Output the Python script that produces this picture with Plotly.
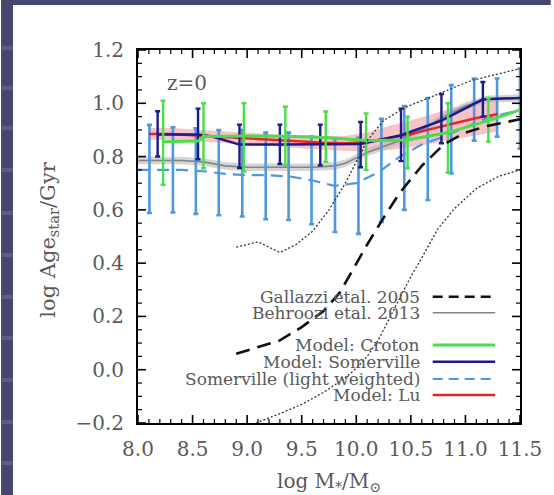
import plotly.graph_objects as go

# ---------------- data ----------------
# Gallazzi et al. 2005 (black dashed) and its 1-sigma envelope (dotted)
gal_x = [8.9, 9.1, 9.3, 9.5, 9.7, 9.85, 10.0, 10.1, 10.25, 10.4, 10.5, 10.6, 10.8, 11.0, 11.2, 11.5]
gal_y = [0.06, 0.085, 0.11, 0.16, 0.22, 0.29, 0.40, 0.47, 0.57, 0.665, 0.715, 0.765, 0.845, 0.89, 0.915, 0.94]
gal_hi_x = [8.9, 9.1, 9.3, 9.45, 9.6, 9.75, 9.9, 10.0, 10.1, 10.25, 10.45, 10.75, 11.05, 11.3, 11.5]
gal_hi_y = [0.46, 0.48, 0.44, 0.47, 0.52, 0.60, 0.70, 0.78, 0.86, 0.935, 0.985, 1.035, 1.085, 1.11, 1.13]
gal_lo_x = [9.08, 9.3, 9.5, 9.7, 9.9, 10.0, 10.1, 10.2, 10.3, 10.4, 10.5, 10.6, 10.75, 10.9, 11.1, 11.3, 11.5]
gal_lo_y = [-0.2, -0.165, -0.13, -0.085, -0.03, 0.005, 0.05, 0.11, 0.19, 0.27, 0.35, 0.42, 0.53, 0.605, 0.68, 0.725, 0.75]

# Behroozi et al. 2013 (grey line with band)
beh_x = [8.0, 8.2, 8.4, 8.6, 8.8, 9.0, 9.2, 9.4, 9.6, 9.8, 9.9, 10.0, 10.1, 10.2, 10.4, 10.6, 10.8, 11.0, 11.2, 11.5]
beh_y = [0.785, 0.785, 0.785, 0.78, 0.765, 0.76, 0.76, 0.76, 0.76, 0.765, 0.775, 0.795, 0.815, 0.83, 0.86, 0.90, 0.95, 0.99, 1.015, 1.02]
beh_err = [0.014] * 20

# Model: Lu (red line with pink band)
lu_x = [8.1, 8.3, 8.5, 8.7, 8.9, 9.1, 9.3, 9.5, 9.7, 9.9, 10.1, 10.3, 10.5, 10.7, 10.9, 11.1, 11.3]
lu_y = [0.885, 0.885, 0.88, 0.875, 0.87, 0.865, 0.86, 0.855, 0.852, 0.85, 0.855, 0.87, 0.885, 0.905, 0.925, 0.945, 0.96]
lu_err = [0.022, 0.022, 0.022, 0.022, 0.022, 0.022, 0.022, 0.025, 0.025, 0.028, 0.035, 0.045, 0.05, 0.055, 0.06, 0.065, 0.065]

# Model: Croton (green)
cro_x = [8.23, 8.55, 8.6, 8.97, 9.35, 9.72, 10.09, 10.47, 10.84, 11.21, 11.5]
cro_y = [0.856, 0.858, 0.875, 0.877, 0.876, 0.872, 0.86, 0.862, 0.89, 0.935, 0.975]
cro_bar_x = [8.23, 8.6, 8.97, 9.35, 9.72, 10.09, 10.47, 10.84, 11.21]
cro_top = [1.01, 1.0, 1.0, 0.987, 0.969, 0.962, 0.95, 1.0, 1.02]
cro_bot = [0.694, 0.756, 0.744, 0.767, 0.78, 0.75, 0.756, 0.74, 0.856]

# Model: Somerville (navy)
som_x = [8.18, 8.55, 8.68, 8.93, 9.30, 9.67, 10.04, 10.41, 10.78, 11.16, 11.5]
som_y = [0.883, 0.883, 0.875, 0.845, 0.845, 0.845, 0.847, 0.88, 0.935, 1.015, 1.02]
som_bar_x = [8.18, 8.55, 8.93, 9.30, 9.67, 10.04, 10.41, 10.78, 11.16]
som_top = [0.97, 0.98, 0.92, 0.92, 0.92, 0.93, 0.98, 1.035, 1.08]
som_bot = [0.80, 0.79, 0.757, 0.772, 0.767, 0.76, 0.783, 0.85, 0.95]

# Somerville light weighted (light blue dashed)
sl_x = [8.0, 8.2, 8.4, 8.6, 8.8, 9.0, 9.2, 9.4, 9.6, 9.8, 10.0, 10.2, 10.4, 10.6, 10.8, 11.0, 11.2, 11.5]
sl_y = [0.75, 0.75, 0.75, 0.745, 0.735, 0.73, 0.73, 0.725, 0.71, 0.69, 0.70, 0.74, 0.80, 0.845, 0.875, 0.91, 0.945, 0.975]
sl_bar_x = [8.105, 8.32, 8.53, 8.74, 8.955, 9.17, 9.38, 9.59, 9.805, 10.02, 10.23, 10.44, 10.655, 10.87, 11.08, 11.29, 11.5]
sl_top = [0.919, 0.91, 0.906, 0.90, 0.90, 0.89, 0.89, 0.875, 0.865, 0.87, 0.942, 0.99, 1.02, 1.068, 1.093, 1.093, 1.13]
sl_bot = [0.588, 0.59, 0.585, 0.58, 0.575, 0.565, 0.562, 0.546, 0.517, 0.51, 0.555, 0.60, 0.637, 0.737, 0.86, 0.875, 0.83]

x_range = [8.0, 11.5]
y_range = [-0.2, 1.2]
x_major, x_minor = 0.5, 0.1
y_major, y_minor = 0.2, 0.05

legend_labels = ["Gallazzi etal. 2005", "Behroozi etal. 2013", "Model: Croton",
                 "Model: Somerville", "Somerville (light weighted)", "Model: Lu"]

# ---------------- styles ----------------
C_GREEN = "#4cdc4c"
C_NAVY = "#1b1b8c"
C_LBLUE = "#4f98dc"
C_RED = "#e02828"
C_PINK = "rgba(240,120,135,0.45)"
C_GREY = "#858585"
C_GREYBAND = "rgba(185,185,185,0.6)"
SERIF = "DejaVu Serif"
TXT = "#5a5a5a"

W, H = 554, 495
ML, MR, MT, MB = 138, 31, 50, 72
PW, PH = W - ML - MR, H - MT - MB


def px2x(px):
    return (px - ML) / PW


def py2y(py):
    return (H - MB - py) / PH


fig = go.Figure()


def band(x, y, e, fill):
    fig.add_trace(go.Scatter(
        x=list(x) + list(x)[::-1],
        y=[a + b for a, b in zip(y, e)] + [a - b for a, b in zip(y, e)][::-1],
        fill="toself", fillcolor=fill, line=dict(width=0), mode="lines",
        hoverinfo="skip", showlegend=False))


def bars(x, top, bot, color, width):
    fig.add_trace(go.Scatter(
        x=x, y=[(t + b) / 2 for t, b in zip(top, bot)], mode="markers",
        marker=dict(size=1, color="rgba(0,0,0,0)"),
        error_y=dict(type="data", symmetric=True,
                     array=[(t - b) / 2 for t, b in zip(top, bot)],
                     color=color, thickness=width, width=2.5),
        showlegend=False, hoverinfo="skip"))


# bands
band(lu_x, lu_y, lu_err, C_PINK)
band(beh_x, beh_y, beh_err, C_GREYBAND)
fig.add_trace(go.Scatter(x=beh_x, y=beh_y, mode="lines", line=dict(color=C_GREY, width=1.6), showlegend=False))

# light weighted Somerville
bars(sl_bar_x, sl_top, sl_bot, C_LBLUE, 2.6)
fig.add_trace(go.Scatter(x=sl_x, y=sl_y, mode="lines",
                         line=dict(color=C_LBLUE, width=2.2, dash="12px,7px"), showlegend=False))

# Lu
fig.add_trace(go.Scatter(x=lu_x, y=lu_y, mode="lines", line=dict(color=C_RED, width=2.5), showlegend=False))

# Somerville
bars(som_bar_x, som_top, som_bot, C_NAVY, 2.4)
fig.add_trace(go.Scatter(x=som_x, y=som_y, mode="lines", line=dict(color=C_NAVY, width=2.5), showlegend=False))

# Croton
bars(cro_bar_x, cro_top, cro_bot, C_GREEN, 2.4)
fig.add_trace(go.Scatter(x=cro_x, y=cro_y, mode="lines", line=dict(color=C_GREEN, width=3), showlegend=False))

# Gallazzi
fig.add_trace(go.Scatter(x=gal_x, y=gal_y, mode="lines",
                         line=dict(color="#111111", width=2.6, dash="14px,8px"), showlegend=False))
fig.add_trace(go.Scatter(x=gal_hi_x, y=gal_hi_y, mode="lines",
                         line=dict(color="#333333", width=1.3, dash="2px,2px"), showlegend=False))
fig.add_trace(go.Scatter(x=gal_lo_x, y=gal_lo_y, mode="lines",
                         line=dict(color="#333333", width=1.3, dash="2px,2px"), showlegend=False))

# ---------------- background (slide) ----------------
shapes = []
BG = "#46466f"
STRIPE = "#5b5c8c"
shapes.append(dict(type="rect", xref="paper", yref="paper", layer="below",
                   x0=px2x(0), x1=px2x(W), y0=py2y(0), y1=py2y(5),
                   fillcolor=BG, line=dict(width=0)))
shapes.append(dict(type="rect", xref="paper", yref="paper", layer="below",
                   x0=px2x(0), x1=px2x(12), y0=py2y(0), y1=py2y(H),
                   fillcolor=BG, line=dict(width=0)))
for sy in [48, 88, 128, 170, 213, 255, 297, 338, 380, 422, 463]:
    shapes.append(dict(type="rect", xref="paper", yref="paper", layer="below",
                       x0=px2x(0), x1=px2x(12), y0=py2y(sy + 2), y1=py2y(sy - 2),
                       fillcolor=STRIPE, line=dict(width=0)))

# ---------------- tick marks on all four sides (IDL style, inside) ----------------
MAJ_LEN, MIN_LEN = 8, 4
nx = int(round((x_range[1] - x_range[0]) / x_minor))
for i in range(nx + 1):
    v = x_range[0] + i * x_minor
    major = (i % int(round(x_major / x_minor))) == 0
    L = (MAJ_LEN if major else MIN_LEN) / PH
    w = 1.6 if major else 1.2
    shapes.append(dict(type="line", xref="x", yref="paper", x0=v, x1=v, y0=0, y1=L,
                       line=dict(color="black", width=w)))
    shapes.append(dict(type="line", xref="x", yref="paper", x0=v, x1=v, y0=1, y1=1 - L,
                       line=dict(color="black", width=w)))
ny = int(round((y_range[1] - y_range[0]) / y_minor))
for i in range(ny + 1):
    v = y_range[0] + i * y_minor
    major = (i % int(round(y_major / y_minor))) == 0
    L = (MAJ_LEN if major else MIN_LEN) / PW
    w = 1.6 if major else 1.2
    shapes.append(dict(type="line", xref="paper", yref="y", x0=0, x1=L, y0=v, y1=v,
                       line=dict(color="black", width=w)))
    shapes.append(dict(type="line", xref="paper", yref="y", x0=1, x1=1 - L, y0=v, y1=v,
                       line=dict(color="black", width=w)))

# ---------------- legend (custom) ----------------
leg_rows = [296.7, 312.7, 345, 361.7, 379, 395]
leg_styles = [dict(color="#111111", width=2.6, dash="10px,6px"),
              dict(color=C_GREY, width=1.6),
              dict(color=C_GREEN, width=3),
              dict(color=C_NAVY, width=2.5),
              dict(color=C_LBLUE, width=2.2, dash="10px,6px"),
              dict(color=C_RED, width=2.5)]
annotations = []
for lab, ry, st in zip(legend_labels, leg_rows, leg_styles):
    annotations.append(dict(xref="paper", yref="paper", x=px2x(424), y=py2y(ry),
                            xanchor="right", yanchor="middle", text=lab, showarrow=False,
                            font=dict(family=SERIF, size=17, color=TXT)))
    shapes.append(dict(type="line", xref="paper", yref="paper",
                       x0=px2x(435), x1=px2x(498), y0=py2y(ry), y1=py2y(ry), line=st))

annotations.append(dict(xref="paper", yref="paper", x=px2x(187), y=py2y(83),
                        xanchor="center", yanchor="middle", text="z=0", showarrow=False,
                        font=dict(family=SERIF, size=20, color=TXT)))
annotations.append(dict(xref="paper", yref="paper", x=px2x(48), y=py2y(240),
                        xanchor="center", yanchor="middle", textangle=-90,
                        text="log Age<sub>star</sub>/Gyr", showarrow=False,
                        font=dict(family=SERIF, size=21, color=TXT)))
annotations.append(dict(xref="paper", yref="paper", x=0.5, y=py2y(482),
                        xanchor="center", yanchor="middle",
                        text="log M<sub>*</sub>/M<sub>⊙</sub>", showarrow=False,
                        font=dict(family=SERIF, size=20, color=TXT)))

axis_common = dict(showgrid=False, zeroline=False, showline=True, linecolor="#000000", linewidth=2,
                   mirror=True, ticks="",
                   tickfont=dict(family=SERIF, size=20, color=TXT), tickangle=0, tickmode="linear")

fig.update_layout(
    width=W, height=H,
    margin=dict(l=ML, r=MR, t=MT, b=MB),
    paper_bgcolor="white", plot_bgcolor="white",
    showlegend=False,
    shapes=shapes, annotations=annotations,
    xaxis=dict(range=x_range, tick0=x_range[0], dtick=x_major, tickformat=".1f",
               ticklabelstandoff=7, **axis_common),
    yaxis=dict(range=y_range, tick0=y_range[0], dtick=y_major, tickformat=".1f",
               ticklabelstandoff=8, **axis_common),
)

fig.write_html("out.html")
